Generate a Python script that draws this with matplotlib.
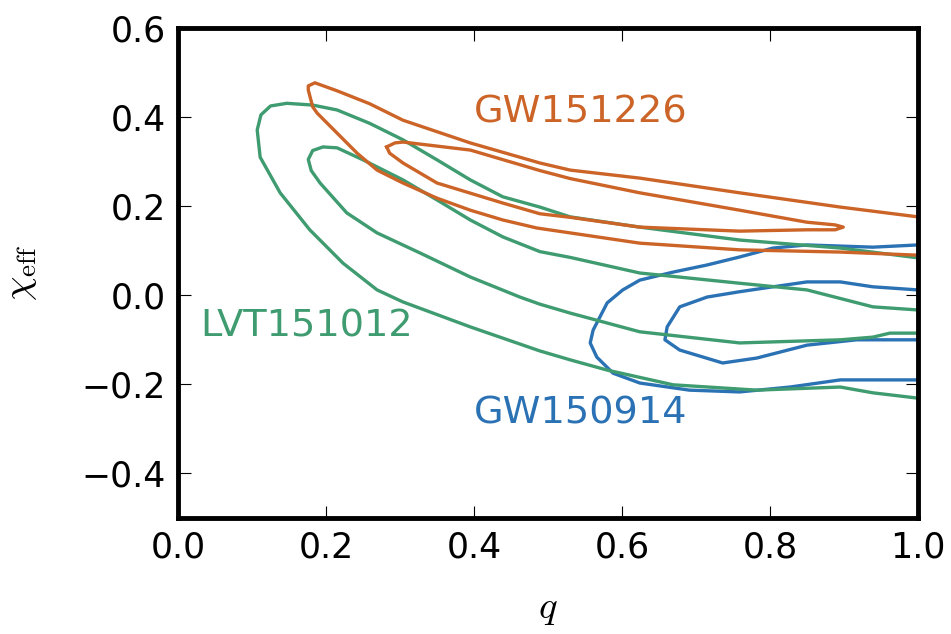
import numpy as np
import matplotlib
matplotlib.use("Agg")
import matplotlib.pyplot as plt

plt.rcParams['mathtext.fontset'] = 'cm'

# contour outlines, (q, chi_eff) pairs
gw151226_90 = np.array([
    (1.00, 0.176), (0.895, 0.198), (0.759, 0.230), (0.624, 0.263), (0.530, 0.281),
    (0.489, 0.297), (0.395, 0.342), (0.304, 0.393), (0.259, 0.430), (0.215, 0.459),
    (0.185, 0.477), (0.176, 0.470), (0.176, 0.461), (0.182, 0.423), (0.188, 0.409),
    (0.215, 0.364), (0.242, 0.319), (0.269, 0.281), (0.304, 0.252), (0.350, 0.218),
    (0.395, 0.191), (0.439, 0.169), (0.485, 0.151), (0.530, 0.140), (0.624, 0.117),
    (0.759, 0.102), (0.895, 0.097), (1.00, 0.090)])
gw151226_50 = np.array([
    (0.282, 0.333), (0.293, 0.342), (0.304, 0.344), (0.395, 0.326), (0.489, 0.280),
    (0.530, 0.262), (0.624, 0.230), (0.759, 0.191), (0.850, 0.164), (0.888, 0.158),
    (0.899, 0.153), (0.888, 0.147), (0.850, 0.147), (0.759, 0.144), (0.624, 0.153),
    (0.530, 0.175), (0.489, 0.183), (0.439, 0.207), (0.350, 0.252), (0.304, 0.297),
    (0.286, 0.319), (0.282, 0.333)])

lvt151012_90 = np.array([
    (1.00, 0.084), (0.895, 0.106), (0.759, 0.124), (0.624, 0.153), (0.530, 0.176),
    (0.489, 0.198), (0.439, 0.221), (0.395, 0.259), (0.350, 0.304), (0.304, 0.349),
    (0.259, 0.386), (0.215, 0.416), (0.182, 0.427), (0.147, 0.431), (0.125, 0.425),
    (0.112, 0.405), (0.107, 0.371), (0.111, 0.310), (0.138, 0.230), (0.178, 0.147),
    (0.223, 0.072), (0.269, 0.012), (0.304, -0.015), (0.395, -0.071), (0.489, -0.125),
    (0.530, -0.145), (0.580, -0.168), (0.669, -0.201), (0.782, -0.213), (0.895, -0.206),
    (0.939, -0.219), (1.00, -0.231)])
lvt151012_50 = np.array([
    (1.00, -0.033), (0.939, -0.026), (0.850, 0.012), (0.759, 0.027), (0.624, 0.050),
    (0.530, 0.085), (0.489, 0.098), (0.439, 0.131), (0.395, 0.169), (0.350, 0.214),
    (0.304, 0.259), (0.250, 0.304), (0.215, 0.331), (0.196, 0.333), (0.182, 0.325),
    (0.176, 0.305), (0.180, 0.280), (0.192, 0.252), (0.228, 0.185), (0.269, 0.140),
    (0.327, 0.095), (0.395, 0.041), (0.462, -0.004), (0.489, -0.020), (0.530, -0.040),
    (0.624, -0.082), (0.759, -0.107), (0.895, -0.100), (0.939, -0.094), (0.962, -0.085),
    (1.00, -0.085)])

gw150914_90 = np.array([
    (1.00, 0.113), (0.939, 0.108), (0.850, 0.113), (0.804, 0.106), (0.759, 0.086),
    (0.715, 0.068), (0.669, 0.052), (0.624, 0.034), (0.601, 0.012), (0.580, -0.017),
    (0.561, -0.078), (0.557, -0.107), (0.566, -0.139), (0.588, -0.175), (0.624, -0.197),
    (0.691, -0.213), (0.759, -0.217), (0.827, -0.206), (0.895, -0.190), (1.00, -0.190)])
gw150914_50 = np.array([
    (1.00, 0.012), (0.939, 0.019), (0.895, 0.030), (0.850, 0.030), (0.804, 0.019),
    (0.759, 0.008), (0.715, -0.004), (0.678, -0.026), (0.661, -0.071), (0.658, -0.100),
    (0.678, -0.123), (0.736, -0.152), (0.782, -0.141), (0.850, -0.112), (0.917, -0.100),
    (1.00, -0.100)])

events = ["GW150914", "LVT151012", "GW151226"]
colors = ["#2b72b5", "#3f9b70", "#cc6428"]
label_pos = [(0.40, -0.265), (0.03, -0.07), (0.40, 0.41)]
contours = [[gw150914_90, gw150914_50], [lvt151012_90, lvt151012_50],
            [gw151226_90, gw151226_50]]

fig = plt.figure(figsize=(9.51, 6.34), dpi=100)
ax = fig.add_axes([0.1872, 0.183, 0.7781, 0.7728])

for name, col, pos, cs in zip(events, colors, label_pos, contours):
    for c in cs:
        ax.plot(c[:, 0], c[:, 1], color=col, lw=2.4, solid_joinstyle="round")
    ax.text(pos[0], pos[1], name, color=col, fontsize=27.5, va="center", ha="left")

ax.set_xlim(0, 1)
ax.set_ylim(-0.5, 0.6)
ax.set_xticks([0.0, 0.2, 0.4, 0.6, 0.8, 1.0])
ax.set_yticks([-0.4, -0.2, 0.0, 0.2, 0.4, 0.6])
ax.tick_params(direction="in", length=9, width=0.8, labelsize=25, pad=9,
               top=True, right=True)
for s in ax.spines.values():
    s.set_linewidth(3.5)

ax.set_xlabel(r"$q$", fontsize=28, labelpad=18)
ax.set_ylabel(r"$\chi_{\rm eff}$", fontsize=28, labelpad=30)

fig.savefig("out.png", dpi=100)
